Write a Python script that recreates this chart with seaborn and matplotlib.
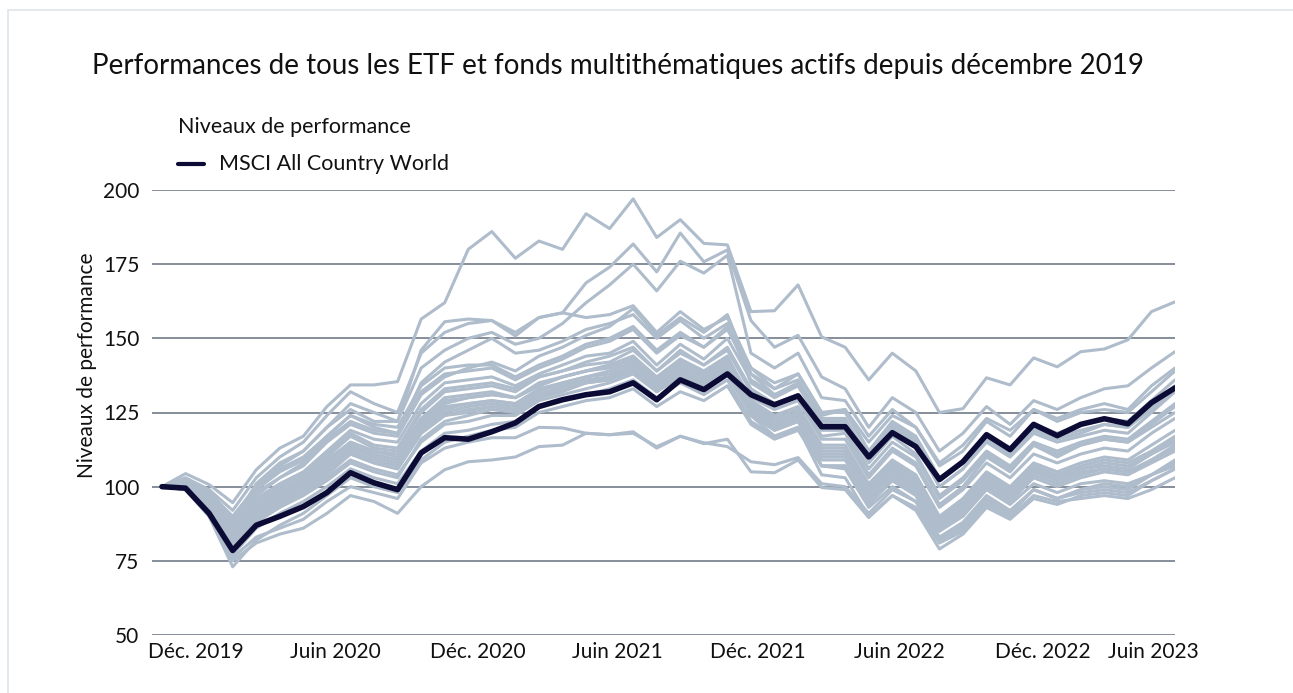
import numpy as np
import pandas as pd
import matplotlib.pyplot as plt
import seaborn as sns
from matplotlib.lines import Line2D
from matplotlib.patches import Rectangle

# Monthly index levels, Dec 2019 = 100 (month 0) through Jul 2023 (month 43)
msci = [100, 99.5, 91, 78.5, 87, 90, 93.3, 98, 104.7, 101.3, 99, 111.4, 116.5, 116, 118.5,
        121.5, 127, 129.3, 131, 132, 135, 129.3, 136, 132.7, 138, 131, 127.6, 130.6, 120.2,
        120.2, 110, 118.2, 113.5, 102.4, 108.4, 117.5, 112.5, 121, 117.2, 121, 122.9, 121.2,
        128.3, 133.3]

fund_a = [100, 104.4, 100.7, 94.6, 105.7, 113, 117, 127, 134.3, 134.3, 135.4, 156.5, 162, 180,
          186, 177, 182.8, 180, 192, 187, 197, 184, 190, 182, 181.5, 159, 159.3, 168, 150.5,
          147, 136, 145, 139, 125, 126.3, 136.7, 134.3, 143.4, 140.4, 145.5, 146.4, 149.5,
          159, 162.3]
fund_b = [100, 103, 99, 92, 103, 110, 115, 124, 132, 128, 125, 145, 152, 155, 156, 152, 157,
          158.6, 168.7, 174, 181.8, 172.4, 185.5, 175.8, 179.8, 156, 147, 151, 137, 133, 120,
          130, 125, 112, 118, 127, 121, 129, 126, 130, 133, 134, 140, 145.5]
fund_c = [100, 102, 98, 90, 100, 107, 112, 120, 128, 125, 122, 140, 146, 150, 152, 148, 150,
          155, 162, 168, 175, 166, 176, 172, 178, 145, 140, 145, 130, 129, 117, 126, 120, 107,
          112, 122, 117, 126, 123, 126, 128, 126, 134, 140]
fund_d = [100, 102, 99, 88, 101, 108, 112, 120, 126, 122, 122, 146, 155.6, 156.5, 156, 150.8,
          157, 158.6, 157, 158, 161, 152, 159, 153, 157, 140, 133, 138, 125, 126, 112, 122,
          117, 103, 108, 117, 112, 120, 117, 119, 121, 120, 127, 134]
fund_e = [100, 101, 97, 86, 99, 106, 110, 117, 124, 120, 118, 135, 142, 146, 150, 145, 146,
          149, 153, 155, 158, 150, 156, 150, 155, 135, 130, 134, 122, 122, 110, 120, 115, 100,
          106, 115, 110, 118, 115, 117, 119, 118, 125, 132]
fund_f = [100, 101, 93, 84, 93, 98, 103, 110, 117, 113, 112, 125, 132, 133, 134, 132, 137, 139,
          141, 142, 146, 139, 145, 141, 146, 132, 128, 131, 117, 118, 104, 113, 108, 94, 100,
          110, 105, 114, 110, 114, 116, 115, 121, 127]
fund_g = [100, 100, 92, 82, 91, 96, 100, 106, 113, 110, 108, 122, 129, 130, 131, 130, 135, 137,
          139, 140, 143, 136, 142, 138, 143, 130, 126, 129, 116, 116, 103, 112, 107, 93, 99,
          108, 103, 111, 108, 111, 113, 112, 118, 123]
fund_h = [100, 102, 95, 87, 96, 101, 105, 112, 119, 116, 115, 128, 135, 136, 137, 134, 138, 141,
          144, 145, 149, 141, 148, 143, 150, 136, 131, 134, 121, 121, 108, 117, 111, 97, 103,
          112, 107, 115, 112, 115, 117, 116, 122, 128]
fund_i = [100, 101, 94, 85, 94, 99, 103, 109, 115, 112, 111, 123, 130, 131, 132, 130, 134, 137,
          139, 141, 144, 137, 143, 139, 144, 129, 124, 127, 114, 114, 101, 109, 104, 90, 96,
          105, 100, 108, 105, 108, 110, 109, 114, 119]
fund_j = [100, 100, 93, 83, 92, 97, 101, 107, 114, 111, 109, 120, 126, 128, 129, 128, 132, 135,
          137, 138, 141, 134, 140, 136, 142, 128, 123, 126, 113, 113, 100, 108, 103, 89, 95,
          104, 99, 107, 104, 107, 109, 108, 112, 117]
fund_k = [100, 101, 92, 81, 90, 95, 99, 104, 111, 108, 106, 118, 124, 125, 127, 126, 131, 133,
          135, 137, 140, 133, 139, 135, 140, 125, 120, 123, 110, 110, 97, 105, 100, 86, 92,
          101, 96, 104, 101, 104, 106, 105, 109, 114]
fund_l = [100, 102, 96, 88, 98, 103, 108, 116, 122, 119, 118, 132, 138, 139, 140, 136, 140, 143,
          147, 149, 153, 145, 151, 147, 153, 138, 133, 136, 123, 123, 110, 119, 114, 100, 106,
          116, 111, 119, 116, 118, 121, 120, 126, 133]
fund_m = [100, 101, 93, 80, 89, 94, 98, 103, 109, 106, 104, 115, 121, 122, 124, 124, 129, 131,
          133, 135, 138, 132, 137, 133, 138, 124, 119, 122, 109, 109, 96, 104, 99, 85, 91, 100,
          95, 103, 100, 103, 105, 104, 108, 112]
fund_n = [100, 100, 91, 77, 86, 91, 95, 100, 106, 103, 101, 112, 118, 119, 121, 122, 127, 129,
          131, 133, 136, 130, 135, 131, 136, 122, 117, 120, 107, 107, 94, 102, 97, 83, 88, 97,
          92, 99, 96, 99, 101, 100, 104, 108]
fund_o = [100, 101, 94, 86, 95, 100, 104, 111, 118, 114, 113, 126, 133, 134, 135, 133, 137, 139,
          142, 144, 147, 139, 146, 141, 147, 133, 128, 131, 119, 119, 106, 115, 110, 96, 102,
          111, 106, 114, 111, 114, 116, 115, 120, 125]
fund_p = [100, 100, 92, 79, 88, 93, 97, 102, 108, 105, 103, 116, 122, 124, 126, 125, 130, 132,
          135, 136, 139, 132, 138, 134, 139, 126, 121, 124, 111, 111, 98, 106, 102, 88, 94, 103,
          98, 106, 103, 106, 108, 107, 111, 116]
fund_q = [100, 99, 90, 73, 82, 87, 91, 97, 103, 100, 98, 109, 115, 117, 119, 120, 125, 127, 129,
          130, 133, 127, 132, 129, 134, 121, 116, 119, 107, 107, 95, 103, 98, 85, 90, 99, 94,
          101, 98, 101, 102, 101, 104, 107]
fund_r = [100, 102, 97, 89, 99, 105, 109, 117, 124, 121, 120, 134, 140, 141, 141, 137, 141, 144,
          148, 150, 154, 146, 152, 147, 154, 140, 135, 138, 125, 125, 112, 121, 116, 102, 108,
          118, 113, 121, 118, 121, 123, 122, 129, 136]
fund_s = [100, 101, 93, 82, 91, 96, 100, 105, 112, 109, 107, 119, 125, 127, 128, 127, 131, 134,
          136, 137, 141, 134, 139, 136, 141, 127, 122, 125, 112, 112, 99, 107, 102, 88, 94, 103,
          98, 106, 103, 106, 107, 106, 111, 115]
fund_t = [100, 100, 92, 80, 89, 94, 99, 105, 111, 108, 106, 118, 124, 126, 127, 126, 130, 133,
          135, 136, 139, 133, 138, 135, 140, 126, 121, 124, 111, 111, 98, 106, 101, 87, 93, 102,
          97, 105, 102, 105, 106, 105, 109, 113]
fund_u = [100, 101, 93, 83, 92, 97, 101, 107, 114, 110, 108, 121, 127, 128, 129, 128, 133, 135,
          137, 139, 142, 135, 141, 137, 142, 124, 117, 120, 104, 103, 90, 97, 92, 79, 84, 93,
          89, 96, 94, 97, 98, 97, 102, 106]
fund_v = [100, 100, 93, 84, 93, 98, 102, 108, 115, 112, 110, 122, 128, 130, 131, 130, 134, 137,
          139, 141, 144, 136, 143, 138, 144, 126, 119, 122, 107, 106, 93, 100, 95, 82, 86, 95,
          91, 99, 96, 99, 100, 99, 104, 109]
fund_w = [100, 102, 96, 87, 97, 103, 107, 115, 121, 118, 117, 131, 137, 140, 142, 139, 144, 147,
          151, 154, 160, 151, 157, 152, 158, 138, 131, 135, 124, 126, 115, 124, 120, 108, 114,
          123, 119, 126, 122, 125, 126, 125, 132, 139]
fund_low1 = [100, 99, 90, 75, 81, 84, 86, 91, 97, 95, 91, 100, 105.7, 108.4, 109, 110, 113.5,
             114, 118, 117.5, 118.5, 113, 117, 114.5, 116, 105, 104.7, 109, 99.7, 99, 89.6, 97,
             93, 81, 85, 94, 90, 97, 95, 96, 97, 96, 99, 103]
fund_low2 = [100, 99, 91, 76, 83, 86, 89, 95, 100, 98, 96, 108, 113, 115, 116.5, 116.5, 120,
             119.8, 118, 117.5, 118, 113.5, 117, 114.8, 113.5, 108.4, 107.4, 109.8, 101, 100,
             91, 99, 95, 82, 87, 96, 91, 99, 96, 98, 99, 98, 102, 106]

funds = [fund_a, fund_b, fund_c, fund_d, fund_e, fund_f, fund_g, fund_h, fund_i, fund_j,
         fund_k, fund_l, fund_m, fund_n, fund_o, fund_p, fund_q, fund_r, fund_s, fund_t,
         fund_u, fund_v, fund_w, fund_low1, fund_low2]

tick_pos = [1.45, 7.35, 13.4, 19.35, 25.3, 31.3, 37.4, 42.1]
tick_labels = ["Déc. 2019", "Juin 2020", "Déc. 2020", "Juin 2021", "Déc. 2021",
               "Juin 2022", "Déc. 2022", "Juin 2023"]

months = np.arange(len(msci))
df = pd.concat([pd.DataFrame({"fund": k, "month": months, "value": v})
                for k, v in enumerate(funds)], ignore_index=True)
df_msci = pd.DataFrame({"month": months, "value": msci})

sns.set_theme(style="white")
plt.rcParams["font.family"] = ["Lato", "DejaVu Sans"]

grey = "#aebccb"
navy = "#0c0b36"
grid = "#7b8591"
ink = "#111111"

fig = plt.figure(figsize=(12.93, 6.93), dpi=100)
ax = fig.add_axes([152 / 1293, 1 - 635 / 693, (1175 - 152) / 1293, (635 - 190) / 693])

for y in [50, 75, 100, 125, 150, 175, 200]:
    ax.axhline(y, color=grid, lw=1.3, zorder=0)

sns.lineplot(data=df, x="month", y="value", units="fund", estimator=None,
             color=grey, lw=2.2, ax=ax, legend=False)
sns.lineplot(data=df_msci, x="month", y="value", color=navy, lw=4, ax=ax, legend=False)

ax.set_xlim(-10 / 23.55, 43)
ax.set_ylim(50, 200)
ax.set_yticks([50, 75, 100, 125, 150, 175, 200])
ax.set_xticks(tick_pos)
ax.set_xticklabels(tick_labels)
ax.tick_params(axis="both", length=0, labelsize=15, colors=ink)
ax.tick_params(axis="x", pad=5)
ax.tick_params(axis="y", pad=9)
ax.set_xlabel("")
ax.set_ylabel("")
for s in ax.spines.values():
    s.set_visible(False)
ax.patch.set_alpha(0)

fig.text(87 / 1293, 1 - 365 / 693, "Niveaux de performance", rotation=90,
         ha="center", va="center", fontsize=15, color=ink)
fig.text(92 / 1293, 1 - 66 / 693,
         "Performances de tous les ETF et fonds multithématiques actifs depuis décembre 2019",
         ha="left", va="center", fontsize=20, color=ink)

# legend drawn by hand in figure coordinates
fig.text(178 / 1293, 1 - 127 / 693, "Niveaux de performance",
         ha="left", va="center", fontsize=15.5, color=ink)
fig.lines.append(Line2D([178 / 1293, 204 / 1293], [1 - 164 / 693, 1 - 164 / 693],
                        transform=fig.transFigure, color=navy, lw=3))
fig.text(219 / 1293, 1 - 164 / 693, "MSCI All Country World",
         ha="left", va="center", fontsize=15.5, color=ink)

fig.patches.append(Rectangle((8 / 1293, -0.1), 1.2, 1 - 10 / 693 + 0.1,
                             transform=fig.transFigure, fill=False,
                             edgecolor="#dfe5eb", lw=1.2))

fig.savefig("out.png", dpi=100)
